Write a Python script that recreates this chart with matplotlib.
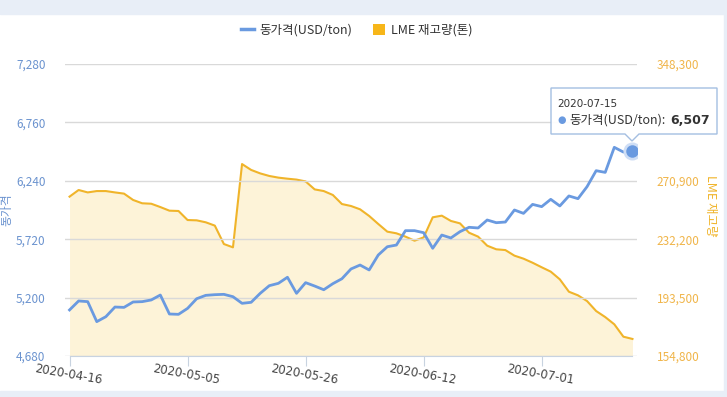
import numpy as np
import pandas as pd
import matplotlib
matplotlib.use('Agg')
import matplotlib.pyplot as plt
from matplotlib.lines import Line2D
from matplotlib.patches import Patch, Polygon, Rectangle
from matplotlib.ticker import FuncFormatter

plt.rcParams['font.family'] = ['Noto Sans CJK KR', 'DejaVu Sans']

# trading days (LME, UK holidays removed)
dates = pd.bdate_range('2020-04-16', '2020-07-15')
dates = [d.strftime('%Y-%m-%d') for d in dates if d.strftime('%Y-%m-%d') not in ('2020-05-08', '2020-05-25')]

# copper price (USD/ton)
price = [5090, 5170, 5164, 4986, 5030, 5116, 5113, 5161, 5164, 5179,
         5223, 5054, 5051, 5104, 5190, 5220, 5226, 5229, 5208, 5149,
         5158, 5238, 5306, 5327, 5381, 5238, 5333, 5303, 5270, 5324,
         5368, 5455, 5490, 5446, 5579, 5653, 5668, 5796, 5796, 5778,
         5639, 5757, 5731, 5787, 5826, 5820, 5891, 5867, 5873, 5980,
         5950, 6030, 6010, 6075, 6016, 6105, 6081, 6188, 6330, 6315,
         6538, 6496, 6507]

# LME stock (ton)
stock = [260400, 264800, 263200, 264100, 264100, 263200, 262400, 258200, 256000, 255700,
         253500, 251100, 250900, 244900, 244700, 243400, 241200, 229000, 226800, 282000,
         278100, 275800, 274100, 273000, 272300, 271700, 270500, 265200, 264100, 261500,
         255500, 254200, 252000, 247600, 242300, 237200, 236100, 233900, 231200, 233400,
         246700, 247800, 244300, 242700, 236500, 233900, 227900, 225500, 225000, 221300,
         219300, 216600, 213600, 210700, 205600, 197400, 195000, 191200, 184600, 180600,
         175800, 167600, 166100]

left_ticks = [4680, 5200, 5720, 6240, 6760, 7280]
right_ticks = [154800, 193500, 232200, 270900, 309600, 348300]
xtick_idx = [0, 13, 26, 39, 52]

blue = '#6a9ae0'
orange = '#f0b42a'
fill = '#fdf3d8'

W, H = 727, 397
fig = plt.figure(figsize=(W / 100, H / 100), dpi=100)

def fx(px):
    return px / W

def fy(py):
    return 1 - py / H

# light blue frame around the panel
fig.patches.append(Rectangle((0, fy(14)), 1, 1, transform=fig.transFigure, color='#e8eef7', zorder=0))
fig.patches.append(Rectangle((0, 0), 1, fy(391), transform=fig.transFigure, color='#e8eef7', zorder=0))
fig.patches.append(Rectangle((fx(724), 0), 1, 1, transform=fig.transFigure, color='#e8eef7', zorder=0))

ax = fig.add_axes([fx(65), fy(356), fx(637) - fx(65), fy(64) - fy(356)])
ax2 = ax.twinx()
ax.set_zorder(ax2.get_zorder() + 1)
ax.patch.set_visible(False)

x = np.arange(len(dates))

ax2.fill_between(x, stock, right_ticks[0], color=fill, lw=0)
ax2.plot(x, stock, color=orange, lw=1.5)
ax.plot(x, price, color=blue, lw=2.0, solid_joinstyle='round')

# highlighted last point
ax.plot(x[-1], price[-1], 'o', ms=13, color='#cfdef5', mec='none')
ax.plot(x[-1], price[-1], 'o', ms=9, color=blue, mec='none')

ax.set_xlim(-0.5, len(dates) - 0.5)
ax.set_ylim(left_ticks[0], left_ticks[-1])
ax2.set_ylim(right_ticks[0], right_ticks[-1])

ax.set_yticks(left_ticks)
ax2.set_yticks(right_ticks)
comma = FuncFormatter(lambda v, p: f'{int(v):,}')
ax.yaxis.set_major_formatter(comma)
ax2.yaxis.set_major_formatter(comma)
ax.grid(axis='y', color='#d9d9d9', lw=1)
ax.set_axisbelow(True)

for a in (ax, ax2):
    for s in a.spines.values():
        s.set_visible(False)

ax.spines['bottom'].set_visible(True)
ax.spines['bottom'].set_color('#c8d3e0')
ax.spines['bottom'].set_bounds(0, len(dates) - 1)

ax.tick_params(axis='y', length=0, pad=14, labelsize=8.5, labelcolor='#6b93cf')
ax2.tick_params(axis='y', length=0, pad=14, labelsize=8.5, labelcolor='#f0b54a')
ax.set_xticks(xtick_idx)
ax.set_xticklabels([dates[i] for i in xtick_idx], rotation=-10, rotation_mode='anchor', ha='center', va='top')
ax.tick_params(axis='x', length=7, color='#c8d3e0', labelsize=8.5, labelcolor='#444444', pad=2)
for lbl in ax.get_xticklabels():
    lbl.set_family(['DejaVu Sans'])

# hide the tick label covered by the tooltip
ax2.get_yticklabels()[4].set_visible(False)

# axis titles
fig.text(fx(7), fy(210), '동가격', rotation=90, ha='center', va='center', fontsize=8.5, color='#6b93cf')
fig.text(fx(711), fy(206), 'LME 재고량', rotation=-90, ha='center', va='center', fontsize=9, color='#f0b42a')

# legend
handles = [Line2D([0], [0], color=blue, lw=2.5),
           Patch(facecolor='#f7b619', edgecolor='none')]
fig.legend(handles, ['동가격(USD/ton)', 'LME 재고량(톤)'], loc='center', bbox_to_anchor=(fx(357), fy(30)),
           ncol=2, frameon=False, fontsize=9, handlelength=1.0, handleheight=1.0,
           columnspacing=1.6, handletextpad=0.5, labelcolor='#333333')

# tooltip
bx0, bx1, by0, by1 = 551, 717, 88, 134
nx, nd = 632, 7
pts = [(bx0, by0), (bx1, by0), (bx1, by1), (nx + nd, by1), (nx, by1 + nd), (nx - nd, by1), (bx0, by1)]
fig.patches.append(Polygon([(fx(a), fy(b)) for a, b in pts], closed=True, transform=fig.transFigure,
                           facecolor='white', edgecolor='#9fbbe0', lw=1, alpha=0.95, zorder=5))
fig.text(fx(557), fy(104), dates[-1], fontsize=7.5, color='#333333', va='center', zorder=6,
         family=['DejaVu Sans'])
fig.text(fx(557), fy(120), '●', fontsize=7, color=blue, va='center', zorder=6, family=['DejaVu Sans'])
fig.text(fx(569), fy(120), '동가격(USD/ton):', fontsize=9, color='#333333', va='center', zorder=6)
fig.text(fx(710), fy(120), f'{price[-1]:,}', fontsize=9, fontweight='bold', color='#333333',
         va='center', ha='right', zorder=6, family=['DejaVu Sans'])

fig.savefig('out.png', dpi=100)
